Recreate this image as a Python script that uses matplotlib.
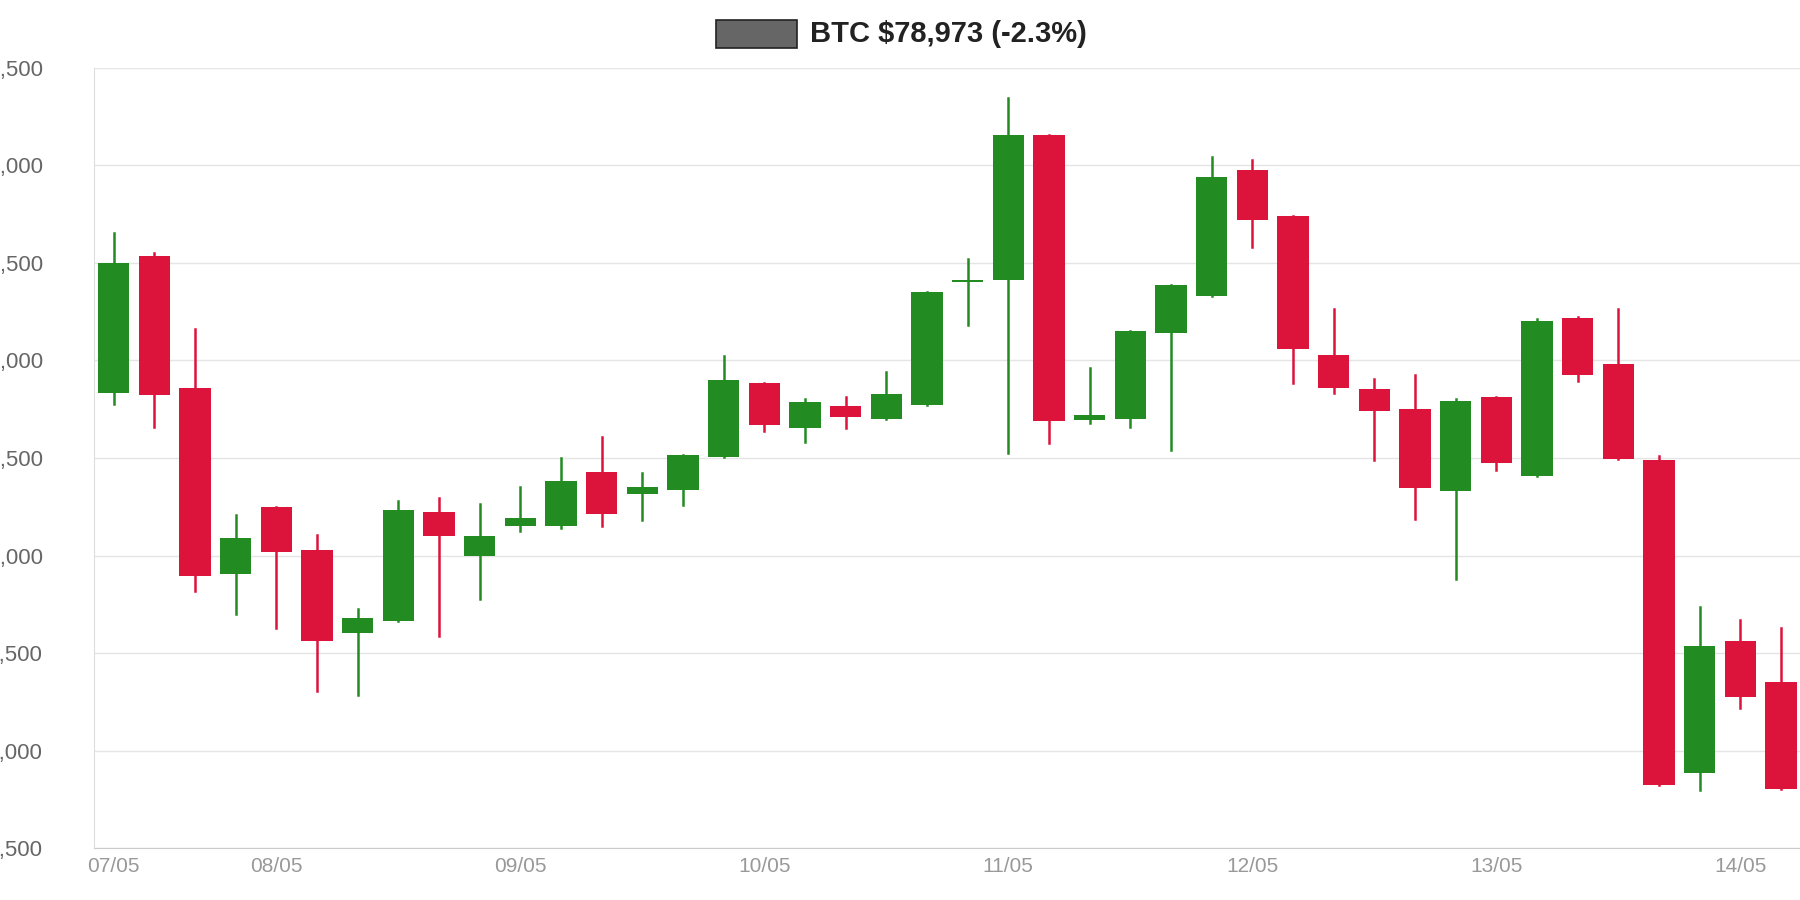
import matplotlib
matplotlib.use("Agg")
import matplotlib.pyplot as plt
from matplotlib.patches import Rectangle

opens  = [80835,81535,80859,79906,80247,80030,79606,79665,80224,80000,80153,80153,80429,80318,80335,80506,80882,80653,80765,80700,80771,81400,81412,82153,80694,80700,81141,81329,81976,81741,81029,80853,80753,80329,80812,80406,81218,80982,80488,78888,79565,79353]
highs  = [81653,81553,81159,80206,80247,80106,79724,80282,80294,80265,80353,80500,80606,80424,80518,81024,80882,80800,80812,80941,81353,81518,82347,82153,80959,81153,81388,82041,82029,81741,81265,80906,80924,80800,80812,81212,81224,81265,80512,79735,79671,79629]
lows   = [80777,80659,79818,79700,79630,79306,79288,79665,79588,79777,80124,80141,80153,80182,80259,80506,80641,80582,80653,80700,80771,81182,80524,80577,80677,80659,80541,81329,81582,80882,80835,80488,80188,79882,80441,80406,80894,80494,78824,78800,79218,78806]
closes = [81500,80824,79894,80088,80018,79565,79682,80235,80100,80100,80194,80382,80212,80353,80518,80900,80671,80788,80712,80829,81353,81412,82153,80688,80718,81153,81388,81941,81718,81059,80859,80741,80347,80794,80476,81200,80924,80494,78824,79535,79276,78806]
tick_pos = [0, 4, 10, 16, 22, 28, 34, 40]
tick_labels = ["07/05","08/05","09/05","10/05","11/05","12/05","13/05","14/05"]
title = "BTC $78,973 (-2.3%)"

W, H = 1568, 784
fig = plt.figure(figsize=(18, 9), dpi=100)
ax = fig.add_axes([82/W, (H-739)/H, 1486/W, 680/H])
up, down = "#228B22", "#DC143C"
w = 0.77
for i, (o, h, l, c) in enumerate(zip(opens, highs, lows, closes)):
    col = up if c >= o else down
    ax.plot([i, i], [l, h], color=col, lw=1.8, zorder=2)
    b = min(o, c); ht = max(abs(c - o), 14)
    ax.add_patch(Rectangle((i - w/2, b), w, ht, color=col, zorder=3, lw=0))

ax.set_xlim(-0.48, 41.47)
ax.set_ylim(78500, 82500)
ax.set_yticks(range(78500, 82501, 500))
ax.set_yticklabels([f"{v:,}" for v in range(78500, 82501, 500)], color="#666666", fontsize=16,
                   family=["Liberation Sans", "DejaVu Sans"])
ax.set_xticks(tick_pos)
ax.set_xticklabels(tick_labels, color="#999999", fontsize=15, family=["Liberation Sans", "DejaVu Sans"])
ax.grid(axis="y", color="#e5e5e5", lw=1)
ax.set_axisbelow(True)
for s in ["top", "right"]:
    ax.spines[s].set_visible(False)
ax.spines["left"].set_color("#dddddd")
ax.spines["bottom"].set_color("#cccccc")
ax.tick_params(length=0, pad=6)
ax.tick_params(axis="y", pad=20)
for t in ax.get_yticklabels():
    t.set_ha("left")
    t.set_x(-80/1486)

fig.patches.append(Rectangle((624/W, 1-42/H), 70/W, 25/H, transform=fig.transFigure,
                             facecolor="#666666", edgecolor="#222222", lw=1.2))
fig.text(706/W, 1-30/H, title, fontsize=21, fontweight="bold", color="#222222", va="center", ha="left",
         family=["Liberation Sans", "DejaVu Sans"])
fig.savefig("out.png", dpi=100)
